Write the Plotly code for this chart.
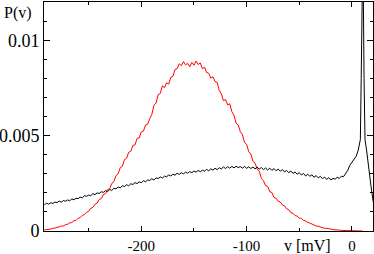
import plotly.graph_objects as go

# membrane potential grid (mV)
red_v = list(range(-292, 12, 2))
red_p = [
    0.00006, 0.00007, 0.00010, 0.00010, 0.00014, 0.00015, 0.00020, 0.00021, 0.00027, 0.00026,
    0.00033, 0.00035, 0.00043, 0.00044, 0.00054, 0.00056, 0.00067, 0.00070, 0.00082, 0.00086,
    0.00099, 0.00103, 0.00119, 0.00124, 0.00140, 0.00146, 0.00165, 0.00170, 0.00191, 0.00196,
    0.00218, 0.00222, 0.00250, 0.00260, 0.00291, 0.00300, 0.00333, 0.00340, 0.00375, 0.00382,
    0.00413, 0.00418, 0.00449, 0.00452, 0.00486, 0.00488, 0.00520, 0.00524, 0.00556, 0.00560,
    0.00590, 0.00612, 0.00660, 0.00672, 0.00715, 0.00722, 0.00762, 0.00752, 0.00778, 0.00771,
    0.00806, 0.00812, 0.00848, 0.00852, 0.00878, 0.00868, 0.00889, 0.00872, 0.00880, 0.00862,
    0.00885, 0.00870, 0.00892, 0.00874, 0.00882, 0.00852, 0.00860, 0.00832, 0.00828, 0.00802,
    0.00810, 0.00785, 0.00780, 0.00738, 0.00720, 0.00684, 0.00690, 0.00662, 0.00668, 0.00626,
    0.00608, 0.00566, 0.00556, 0.00522, 0.00506, 0.00464, 0.00455, 0.00416, 0.00404, 0.00366,
    0.00356, 0.00326, 0.00314, 0.00276, 0.00264, 0.00238, 0.00234, 0.00206, 0.00202, 0.00176,
    0.00172, 0.00156, 0.00152, 0.00136, 0.00132, 0.00116, 0.00112, 0.00096, 0.00093, 0.00081,
    0.00078, 0.00068, 0.00066, 0.00056, 0.00053, 0.00045, 0.00042, 0.00036, 0.00033, 0.00026,
    0.00025, 0.00020, 0.00019, 0.00014, 0.00014, 0.00010, 0.00010, 0.00007, 0.00007, 0.00005,
    0.00005, 0.00003, 0.00003, 0.00002, 0.00002, 0.00001, 0.00001, 0.00001, 0.00000, 0.00001,
    0.00000, 0.00000,
]

black_v = list(range(-292, 10, 2)) + [8.8, 9.4, 10.4, 11.5, 12.4, 14, 16, 18, 20, 21]
black_p = [
    0.00138, 0.00146, 0.00141, 0.00148, 0.00145, 0.00152, 0.00149, 0.00157, 0.00151, 0.00160,
    0.00156, 0.00163, 0.00159, 0.00168, 0.00164, 0.00172, 0.00170, 0.00178, 0.00174, 0.00185,
    0.00182, 0.00189, 0.00185, 0.00196, 0.00191, 0.00200, 0.00197, 0.00206, 0.00203, 0.00212,
    0.00207, 0.00218, 0.00213, 0.00224, 0.00221, 0.00231, 0.00226, 0.00238, 0.00233, 0.00243,
    0.00237, 0.00248, 0.00244, 0.00254, 0.00249, 0.00258, 0.00253, 0.00264, 0.00258, 0.00268,
    0.00265, 0.00274, 0.00268, 0.00279, 0.00275, 0.00284, 0.00278, 0.00288, 0.00285, 0.00294,
    0.00289, 0.00298, 0.00293, 0.00303, 0.00297, 0.00306, 0.00300, 0.00309, 0.00303, 0.00312,
    0.00306, 0.00315, 0.00309, 0.00318, 0.00311, 0.00319, 0.00314, 0.00323, 0.00316, 0.00326,
    0.00320, 0.00329, 0.00322, 0.00332, 0.00326, 0.00336, 0.00328, 0.00338, 0.00330, 0.00339,
    0.00331, 0.00340, 0.00333, 0.00338, 0.00330, 0.00339, 0.00329, 0.00337, 0.00328, 0.00336,
    0.00326, 0.00335, 0.00325, 0.00333, 0.00322, 0.00331, 0.00320, 0.00330, 0.00318, 0.00328,
    0.00316, 0.00325, 0.00314, 0.00322, 0.00310, 0.00318, 0.00306, 0.00315, 0.00302, 0.00310,
    0.00298, 0.00306, 0.00294, 0.00302, 0.00289, 0.00298, 0.00287, 0.00295, 0.00282, 0.00291,
    0.00279, 0.00287, 0.00275, 0.00283, 0.00271, 0.00280, 0.00268, 0.00276, 0.00272, 0.00282,
    0.00276, 0.00288, 0.00285, 0.00300, 0.00318, 0.00345, 0.00360, 0.00375, 0.00392, 0.00425,
    0.00480,
    0.00800, 0.01500, 0.01500, 0.00800, 0.00480, 0.00420, 0.00320, 0.00240, 0.00160, 0.00130,
]

x_tickvals = [-200, -100, 0]
x_ticktext = ["-200", "-100", "0"]
y_tickvals = [0, 0.005, 0.01]
y_ticktext = ["0", "0.005", "0.01"]

serif = "Liberation Serif, Times New Roman, serif"

fig = go.Figure()
fig.add_trace(go.Scatter(x=red_v, y=red_p, mode="lines",
                         line=dict(color="#ff0000", width=1), showlegend=False))
fig.add_trace(go.Scatter(x=black_v, y=black_p, mode="lines",
                         line=dict(color="#000000", width=1), showlegend=False))

axis_common = dict(showgrid=False, zeroline=False, showline=True, linecolor="black",
                   linewidth=1, mirror="ticks", ticks="inside", tickcolor="black",
                   tickwidth=1, automargin=False)

fig.update_xaxes(range=[-292.4, 20], tickvals=x_tickvals, ticktext=x_ticktext, ticklen=5,
                 tickfont=dict(family=serif, size=15, color="black"), ticklabelstandoff=1,
                 minor=dict(tickvals=[-250, -150, -50], ticklen=3, ticks="inside",
                            tickcolor="black", tickwidth=1),
                 **axis_common)
fig.update_yaxes(range=[0, 0.01202], tickvals=y_tickvals, ticktext=y_ticktext, ticklen=6,
                 tickfont=dict(family=serif, size=18, color="black"),
                 minor=dict(dtick=0.001, tick0=0, ticklen=3, ticks="inside",
                            tickcolor="black", tickwidth=1),
                 **axis_common)

fig.update_layout(
    width=374, height=254,
    margin=dict(l=44, r=1, t=2, b=23, autoexpand=False),
    paper_bgcolor="white", plot_bgcolor="white",
    annotations=[
        dict(text="P(v)", xref="paper", yref="paper", x=-0.128, y=1.0, xanchor="left",
             yanchor="top", showarrow=False, font=dict(family=serif, size=16, color="black")),
        dict(text="v [mV]", xref="paper", yref="paper", x=0.802, y=-0.0655, xanchor="center",
             yanchor="middle", showarrow=False, font=dict(family=serif, size=16, color="black")),
    ],
)

fig.write_html("out.html", config={"displayModeBar": False},
               post_script="document.body.style.margin='0';document.body.style.overflow='hidden';")
